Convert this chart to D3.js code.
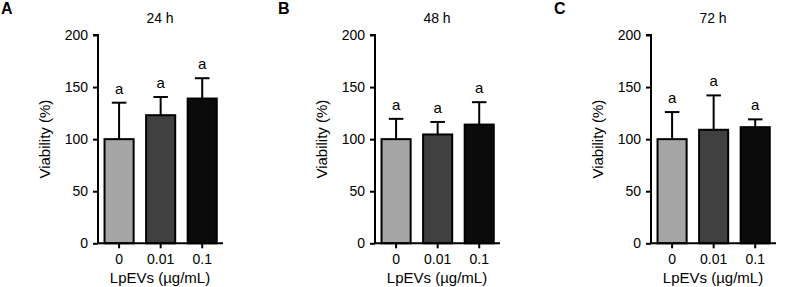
<!DOCTYPE html>
<html><head><meta charset="utf-8">
<script src="https://cdn.jsdelivr.net/npm/d3@7"></script>
<style>body{margin:0;background:#fff}svg{display:block}text{font-family:"Liberation Sans",Arial,sans-serif;fill:#000}</style>
</head><body><svg id="c" width="787" height="287"></svg>
<script>
const categories = ["0", "0.01", "0.1"];
const panelLetters = ["A", "B", "C"];
const panelTitles = ["24 h", "48 h", "72 h"];
const means24 = [100, 123, 139];
const errs24 = [135, 140.5, 158.5];
const means48 = [100, 104.5, 114];
const errs48 = [119.5, 116.5, 135.5];
const means72 = [100, 109, 111.5];
const errs72 = [126, 142, 119];
const sigLetters = ["a", "a", "a"];
const yTicks = [0, 50, 100, 150, 200];
const barColors = ["#a6a6a6", "#404040", "#0b0b0b"];
const yLabel = "Viability (%)";
const xLabel = "LpEVs (µg/mL)";

const panels = [
  {means: means24, errs: errs24},
  {means: means48, errs: errs48},
  {means: means72, errs: errs72}
];
const axisXs = [98, 375, 651];

const svg = d3.select("#c");
const y = d3.scaleLinear().domain([0, 200]).range([243.3, 35]);

panels.forEach((p, i) => {
  const ax = axisXs[i];
  const g = svg.append("g");
  const x = d3.scaleBand().domain(categories).range([ax + 0.3, ax + 125]).paddingInner(0.3).paddingOuter(0.15);

  // bars
  g.selectAll("rect").data(categories).enter().append("rect")
    .attr("x", d => x(d)).attr("width", x.bandwidth())
    .attr("y", (d, j) => y(p.means[j]))
    .attr("height", (d, j) => y(0) - y(p.means[j]))
    .attr("fill", (d, j) => barColors[j])
    .attr("stroke", "#000").attr("stroke-width", 2);

  // error bars
  const cap = x.bandwidth() * 0.5;
  categories.forEach((d, j) => {
    const cx = x(d) + x.bandwidth() / 2;
    g.append("line").attr("x1", cx).attr("x2", cx)
      .attr("y1", y(p.means[j])).attr("y2", y(p.errs[j]))
      .attr("stroke", "#000").attr("stroke-width", 2);
    g.append("line").attr("x1", cx - cap / 2).attr("x2", cx + cap / 2)
      .attr("y1", y(p.errs[j])).attr("y2", y(p.errs[j]))
      .attr("stroke", "#000").attr("stroke-width", 2);
    g.append("text").attr("x", cx).attr("y", y(p.errs[j]) - 9)
      .attr("text-anchor", "middle").style("font-size", "15px").text(sigLetters[j]);
  });

  // y axis
  const ya = g.append("g").attr("transform", `translate(${ax},0)`)
    .call(d3.axisLeft(y).tickValues(yTicks).tickSize(5).tickPadding(5).tickFormat(d3.format("d")));
  ya.selectAll("path,line").attr("stroke", "#000").attr("stroke-width", 2);
  ya.select("path").attr("d", `M-5,${y(200)}H0V${y(0)}`);
  ya.selectAll("text").style("font-size", "14px").attr("font-family", null);

  // x axis
  const xa = g.append("g").attr("transform", `translate(0,${y(0)})`)
    .call(d3.axisBottom(x).tickSize(5).tickPadding(6));
  xa.selectAll("path,line").attr("stroke", "#000").attr("stroke-width", 2);
  xa.select("path").attr("d", `M${ax - 1},0H${ax + 125}`);
  xa.selectAll("text").style("font-size", "14px").attr("font-family", null);

  // labels
  g.append("text").attr("transform", `translate(${ax - 48},${(y(0) + y(200)) / 2}) rotate(-90)`)
    .attr("text-anchor", "middle").style("font-size", "15px").text(yLabel);
  g.append("text").attr("x", ax + 62).attr("y", 283)
    .attr("text-anchor", "middle").style("font-size", "15px").text(xLabel);
  g.append("text").attr("x", ax + 62).attr("y", 23)
    .attr("text-anchor", "middle").style("font-size", "14px").text(panelTitles[i]);
  g.append("text").attr("x", ax - 97).attr("y", 14)
    .style("font-size", "16px").style("font-weight", "bold").text(panelLetters[i]);
});
</script></body></html>
